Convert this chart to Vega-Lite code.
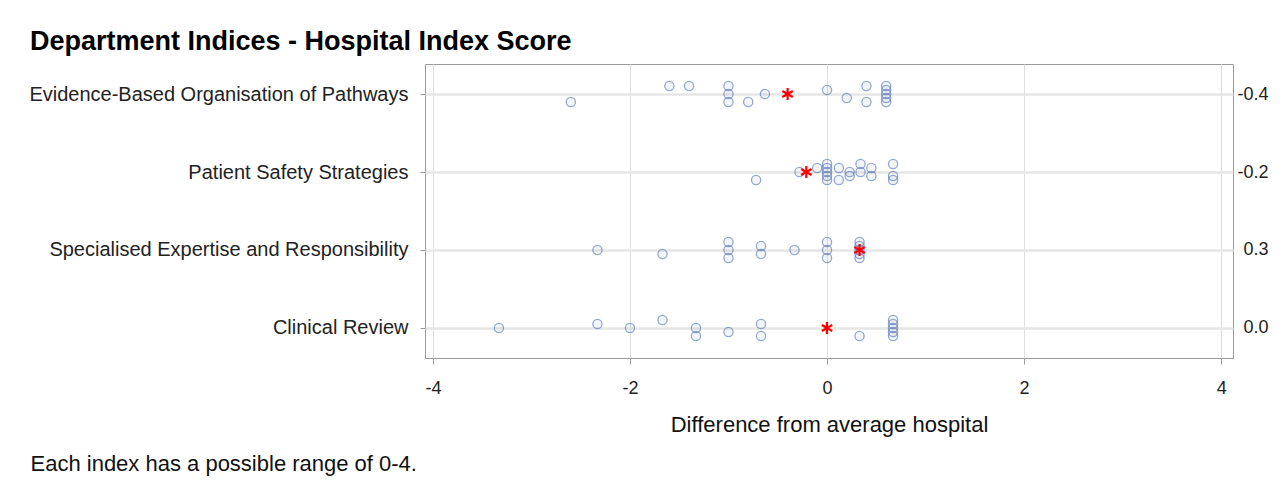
{
  "$schema": "https://vega.github.io/schema/vega-lite/v6.json",
  "width": 808,
  "height": 294,
  "autosize": {"type": "none"},
  "padding": {"left": 425, "top": 64, "right": 55, "bottom": 123},
  "background": "white",
  "config": {
    "font": "Liberation Sans",
    "view": {"stroke": "#9a9a9a", "strokeWidth": 1}
  },
  "title": {
    "text": "Department Indices - Hospital Index Score",
    "anchor": "start",
    "frame": "group",
    "dx": -395,
    "dy": 26,
    "offset": 13,
    "baseline": "alphabetic",
    "fontSize": 27,
    "fontWeight": "bold",
    "color": "#000000",
    "font": "Liberation Sans"
  },
  "datasets": {
    "sites": [
      {"index": "Evidence-Based Organisation of Pathways", "diff": -2.6, "slot": 2},
      {"index": "Evidence-Based Organisation of Pathways", "diff": -1.6, "slot": -2},
      {"index": "Evidence-Based Organisation of Pathways", "diff": -1.4, "slot": -2},
      {"index": "Evidence-Based Organisation of Pathways", "diff": -1.0, "slot": -2},
      {"index": "Evidence-Based Organisation of Pathways", "diff": -1.0, "slot": 0},
      {"index": "Evidence-Based Organisation of Pathways", "diff": -1.0, "slot": 2},
      {"index": "Evidence-Based Organisation of Pathways", "diff": -0.8, "slot": 2},
      {"index": "Evidence-Based Organisation of Pathways", "diff": -0.63, "slot": 0},
      {"index": "Evidence-Based Organisation of Pathways", "diff": 0.0, "slot": -1},
      {"index": "Evidence-Based Organisation of Pathways", "diff": 0.2, "slot": 1},
      {"index": "Evidence-Based Organisation of Pathways", "diff": 0.4, "slot": -2},
      {"index": "Evidence-Based Organisation of Pathways", "diff": 0.4, "slot": 2},
      {"index": "Evidence-Based Organisation of Pathways", "diff": 0.6, "slot": -2},
      {"index": "Evidence-Based Organisation of Pathways", "diff": 0.6, "slot": -1},
      {"index": "Evidence-Based Organisation of Pathways", "diff": 0.6, "slot": 0},
      {"index": "Evidence-Based Organisation of Pathways", "diff": 0.6, "slot": 1},
      {"index": "Evidence-Based Organisation of Pathways", "diff": 0.6, "slot": 2},
      {"index": "Patient Safety Strategies", "diff": -0.72, "slot": 2},
      {"index": "Patient Safety Strategies", "diff": -0.28, "slot": 0},
      {"index": "Patient Safety Strategies", "diff": -0.1, "slot": -1},
      {"index": "Patient Safety Strategies", "diff": 0.0, "slot": -2},
      {"index": "Patient Safety Strategies", "diff": 0.0, "slot": -1},
      {"index": "Patient Safety Strategies", "diff": 0.0, "slot": 0},
      {"index": "Patient Safety Strategies", "diff": 0.0, "slot": 1},
      {"index": "Patient Safety Strategies", "diff": 0.0, "slot": 2},
      {"index": "Patient Safety Strategies", "diff": 0.12, "slot": -1},
      {"index": "Patient Safety Strategies", "diff": 0.12, "slot": 2},
      {"index": "Patient Safety Strategies", "diff": 0.23, "slot": 0},
      {"index": "Patient Safety Strategies", "diff": 0.23, "slot": 1},
      {"index": "Patient Safety Strategies", "diff": 0.34, "slot": -2},
      {"index": "Patient Safety Strategies", "diff": 0.34, "slot": 0},
      {"index": "Patient Safety Strategies", "diff": 0.45, "slot": -1},
      {"index": "Patient Safety Strategies", "diff": 0.45, "slot": 1},
      {"index": "Patient Safety Strategies", "diff": 0.67, "slot": -2},
      {"index": "Patient Safety Strategies", "diff": 0.67, "slot": 1},
      {"index": "Patient Safety Strategies", "diff": 0.67, "slot": 2},
      {"index": "Specialised Expertise and Responsibility", "diff": -2.33, "slot": 0},
      {"index": "Specialised Expertise and Responsibility", "diff": -1.67, "slot": 1},
      {"index": "Specialised Expertise and Responsibility", "diff": -1.0, "slot": -2},
      {"index": "Specialised Expertise and Responsibility", "diff": -1.0, "slot": 0},
      {"index": "Specialised Expertise and Responsibility", "diff": -1.0, "slot": 2},
      {"index": "Specialised Expertise and Responsibility", "diff": -0.67, "slot": -1},
      {"index": "Specialised Expertise and Responsibility", "diff": -0.67, "slot": 1},
      {"index": "Specialised Expertise and Responsibility", "diff": -0.33, "slot": 0},
      {"index": "Specialised Expertise and Responsibility", "diff": 0.0, "slot": -2},
      {"index": "Specialised Expertise and Responsibility", "diff": 0.0, "slot": 0},
      {"index": "Specialised Expertise and Responsibility", "diff": 0.0, "slot": 2},
      {"index": "Specialised Expertise and Responsibility", "diff": 0.33, "slot": -2},
      {"index": "Specialised Expertise and Responsibility", "diff": 0.33, "slot": -1},
      {"index": "Specialised Expertise and Responsibility", "diff": 0.33, "slot": 0},
      {"index": "Specialised Expertise and Responsibility", "diff": 0.33, "slot": 1},
      {"index": "Specialised Expertise and Responsibility", "diff": 0.33, "slot": 2},
      {"index": "Clinical Review", "diff": -3.33, "slot": 0},
      {"index": "Clinical Review", "diff": -2.33, "slot": -1},
      {"index": "Clinical Review", "diff": -2.0, "slot": 0},
      {"index": "Clinical Review", "diff": -1.67, "slot": -2},
      {"index": "Clinical Review", "diff": -1.33, "slot": 0},
      {"index": "Clinical Review", "diff": -1.33, "slot": 2},
      {"index": "Clinical Review", "diff": -1.0, "slot": 1},
      {"index": "Clinical Review", "diff": -0.67, "slot": -1},
      {"index": "Clinical Review", "diff": -0.67, "slot": 2},
      {"index": "Clinical Review", "diff": 0.33, "slot": 2},
      {"index": "Clinical Review", "diff": 0.67, "slot": -2},
      {"index": "Clinical Review", "diff": 0.67, "slot": -1},
      {"index": "Clinical Review", "diff": 0.67, "slot": 0},
      {"index": "Clinical Review", "diff": 0.67, "slot": 1},
      {"index": "Clinical Review", "diff": 0.67, "slot": 2}
    ],
    "hospital": [
      {"index": "Evidence-Based Organisation of Pathways", "diff": -0.4},
      {"index": "Patient Safety Strategies", "diff": -0.21},
      {"index": "Specialised Expertise and Responsibility", "diff": 0.33},
      {"index": "Clinical Review", "diff": 0.0}
    ]
  },
  "layer": [
    {
      "data": {"name": "sites"},
      "mark": {"type": "point", "shape": "circle", "size": 85, "filled": false, "stroke": "#4f6fb0", "strokeOpacity": 0.6, "fill": "#4f6fb0", "fillOpacity": 0.07, "strokeWidth": 1.3},
      "encoding": {
        "x": {
          "field": "diff",
          "type": "quantitative",
          "scale": {"domain": [-4.08, 4.12], "nice": false, "zero": false},
          "axis": {
            "values": [-4, -2, 0, 2, 4],
            "labelExpr": "toString(datum.value)",
            "grid": true,
            "gridColor": "#dedede",
            "gridWidth": 1,
            "domain": false,
            "tickSize": 6,
            "tickColor": "#9a9a9a",
            "labelFontSize": 18,
            "labelColor": "#222222",
            "labelPadding": 15,
            "title": "Difference from average hospital",
            "titleFontSize": 22,
            "titleFontWeight": "normal",
            "titleColor": "#111111",
            "titlePadding": 17
          }
        },
        "y": {
          "field": "index",
          "type": "nominal",
          "scale": {"type": "point", "domain": ["Evidence-Based Organisation of Pathways", "Patient Safety Strategies", "Specialised Expertise and Responsibility", "Clinical Review"], "padding": 0.385},
          "axis": {
            "orient": "left",
            "grid": true,
            "gridColor": "#e6e6e6",
            "gridWidth": 2.5,
            "domain": false,
            "tickSize": 5,
            "tickColor": "#9a9a9a",
            "labelFontSize": 20,
            "labelColor": "#222222",
            "labelPadding": 12,
            "labelLimit": 500,
            "title": "Each index has a possible range of 0-4.",
            "titleAngle": 0,
            "titleAlign": "left",
            "titleBaseline": "alphabetic",
            "titleX": -395,
            "titleY": 406,
            "titleFontSize": 22,
            "titleFontWeight": "normal",
            "titleColor": "#111111"
          }
        },
        "yOffset": {"field": "slot", "type": "quantitative", "scale": {"domain": [-2, 2], "range": [-8, 8]}}
      }
    },
    {
      "mark": {"type": "rule", "color": "#8c8c8c", "strokeWidth": 1.5},
      "encoding": {"x": {"datum": 0}}
    },
    {
      "data": {"name": "hospital"},
      "transform": [{"calculate": "replace(format(datum.diff, '.1f'), '\u2212', '-')", "as": "label"}],
      "mark": {"type": "point", "shape": "M0,-1L0,1M-0.87,-0.5L0.87,0.5M-0.87,0.5L0.87,-0.5", "size": 144, "filled": false, "stroke": "#ff0000", "strokeWidth": 2.2, "opacity": 1},
      "encoding": {
        "x": {"field": "diff", "type": "quantitative"},
        "y": {
          "field": "label",
          "type": "nominal",
          "scale": {"type": "point", "domain": ["-0.4", "-0.2", "0.3", "0.0"], "padding": 0.385},
          "axis": {
            "orient": "right",
            "grid": false,
            "domain": false,
            "ticks": false,
            "tickSize": 0,
            "labelAlign": "right",
            "labelPadding": 35,
            "labelFontSize": 18,
            "labelColor": "#222222",
            "title": null
          }
        }
      }
    }
  ],
  "resolve": {"scale": {"y": "independent"}}
}
